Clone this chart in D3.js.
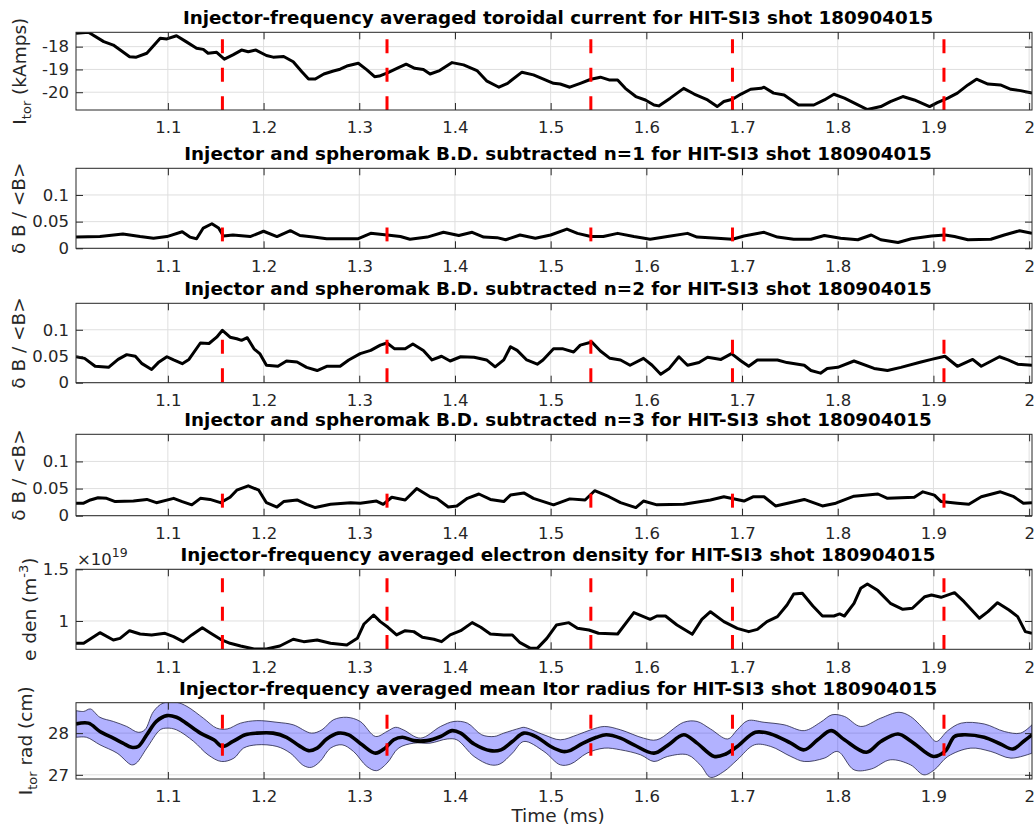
<!DOCTYPE html>
<html lang="en">
<head>
<meta charset="UTF-8">
<title>HIT-SI3 shot 180904015</title>
<script src="https://d3js.org/d3.v7.min.js"></script>
<style>
    body { margin: 0; background: #fff; }
    svg { display: block; }
    .tick text { fill: #262626; font-size: 16.5px; font-family: "DejaVu Sans", sans-serif; }
    .tick line { stroke: #262626; }
    .title { font-family: "DejaVu Sans", sans-serif; font-weight: bold; font-size: 18.3px; fill: #000; }
    .lab { font-family: "DejaVu Sans", sans-serif; font-size: 18.5px; fill: #262626; }
</style>
</head>
<body>
<div id="chart"></div>
<script>
// time axis
const timeTicks = [1.1, 1.2, 1.3, 1.4, 1.5, 1.6, 1.7, 1.8, 1.9, 2];
const markerTimes = [1.157, 1.329, 1.542, 1.690, 1.911];

// toroidal current (kA)
const tCur = [1.004,1.017,1.033,1.043,1.060,1.067,1.078,1.092,1.099,1.109,1.119,1.130,1.137,1.142,1.151,1.159,1.168,1.177,1.184,1.192,1.203,1.210,1.221,1.231,1.240,1.247,1.254,1.263,1.273,1.280,1.287,1.299,1.308,1.316,1.321,1.330,1.341,1.349,1.358,1.367,1.374,1.384,1.397,1.409,1.423,1.433,1.446,1.455,1.470,1.482,1.503,1.510,1.520,1.531,1.542,1.552,1.561,1.570,1.578,1.589,1.599,1.608,1.613,1.625,1.639,1.650,1.664,1.674,1.681,1.690,1.699,1.709,1.720,1.723,1.733,1.744,1.759,1.775,1.786,1.796,1.807,1.819,1.831,1.845,1.855,1.868,1.880,1.896,1.904,1.915,1.925,1.936,1.945,1.957,1.970,1.981,1.991,2.003];
const iTor = [-17.41,-17.37,-17.78,-17.93,-18.44,-18.46,-18.29,-17.63,-17.66,-17.52,-17.78,-18.07,-18.12,-18.29,-18.25,-18.55,-18.36,-18.15,-18.22,-18.15,-18.39,-18.46,-18.43,-18.66,-19.10,-19.42,-19.42,-19.20,-19.07,-18.99,-18.85,-18.73,-19.02,-19.32,-19.29,-19.14,-18.92,-18.77,-18.95,-19.00,-19.20,-19.05,-18.70,-18.80,-19.05,-19.50,-19.78,-19.61,-19.12,-19.24,-19.61,-19.64,-19.78,-19.61,-19.43,-19.34,-19.46,-19.46,-19.83,-20.19,-20.34,-20.56,-20.60,-20.26,-19.83,-20.08,-20.34,-20.63,-20.41,-20.31,-20.08,-19.87,-19.83,-19.78,-20.04,-20.12,-20.56,-20.56,-20.34,-20.09,-20.26,-20.51,-20.76,-20.63,-20.41,-20.19,-20.34,-20.63,-20.46,-20.26,-20.04,-19.68,-19.43,-19.64,-19.68,-19.87,-19.93,-20.04];

// n=1 mode amplitude
const tN1 = [1.004,1.029,1.053,1.071,1.085,1.099,1.115,1.123,1.130,1.137,1.146,1.153,1.158,1.168,1.186,1.200,1.214,1.228,1.238,1.252,1.266,1.287,1.299,1.312,1.329,1.343,1.353,1.371,1.388,1.404,1.418,1.430,1.444,1.453,1.468,1.484,1.500,1.517,1.528,1.542,1.555,1.570,1.587,1.604,1.622,1.643,1.653,1.674,1.690,1.702,1.723,1.737,1.754,1.772,1.786,1.803,1.821,1.835,1.845,1.863,1.877,1.898,1.912,1.922,1.936,1.960,1.974,1.990,2.003];
const bN1 = [0.021,0.022,0.027,0.022,0.019,0.022,0.031,0.021,0.018,0.038,0.046,0.038,0.023,0.025,0.022,0.032,0.022,0.033,0.024,0.021,0.018,0.018,0.018,0.028,0.025,0.022,0.017,0.021,0.030,0.024,0.030,0.021,0.020,0.016,0.025,0.019,0.025,0.036,0.028,0.022,0.022,0.028,0.022,0.017,0.022,0.028,0.021,0.019,0.017,0.023,0.030,0.021,0.017,0.017,0.024,0.019,0.016,0.025,0.016,0.011,0.018,0.023,0.025,0.022,0.016,0.017,0.025,0.033,0.028];

// n=2 mode amplitude
const tN2 = [1.004,1.013,1.024,1.038,1.048,1.057,1.066,1.073,1.083,1.090,1.099,1.106,1.115,1.122,1.134,1.143,1.151,1.157,1.165,1.172,1.177,1.183,1.190,1.196,1.203,1.215,1.224,1.235,1.245,1.256,1.266,1.280,1.289,1.301,1.312,1.322,1.329,1.337,1.348,1.356,1.367,1.376,1.386,1.395,1.406,1.420,1.433,1.442,1.451,1.458,1.465,1.475,1.486,1.492,1.503,1.513,1.524,1.531,1.543,1.552,1.562,1.573,1.583,1.597,1.606,1.615,1.624,1.634,1.643,1.655,1.664,1.678,1.689,1.699,1.707,1.716,1.737,1.747,1.765,1.772,1.782,1.789,1.800,1.817,1.838,1.852,1.866,1.887,1.898,1.912,1.925,1.941,1.950,1.969,1.978,1.988,2.003];
const bN2 = [0.049,0.046,0.031,0.029,0.044,0.053,0.050,0.036,0.025,0.038,0.049,0.043,0.036,0.044,0.075,0.074,0.086,0.099,0.086,0.083,0.080,0.085,0.064,0.055,0.033,0.031,0.041,0.039,0.029,0.023,0.031,0.031,0.043,0.055,0.061,0.071,0.075,0.064,0.064,0.073,0.061,0.043,0.050,0.041,0.049,0.048,0.043,0.030,0.043,0.068,0.061,0.043,0.035,0.043,0.064,0.064,0.058,0.071,0.077,0.060,0.046,0.043,0.033,0.046,0.033,0.016,0.027,0.049,0.033,0.038,0.048,0.044,0.055,0.041,0.031,0.043,0.043,0.038,0.033,0.023,0.018,0.027,0.029,0.041,0.027,0.023,0.029,0.039,0.044,0.050,0.031,0.044,0.031,0.049,0.043,0.035,0.033];

// n=3 mode amplitude
const tN3 = [1.004,1.012,1.019,1.027,1.036,1.045,1.064,1.078,1.088,1.106,1.115,1.125,1.134,1.144,1.155,1.165,1.172,1.184,1.195,1.203,1.214,1.221,1.235,1.245,1.254,1.270,1.291,1.301,1.318,1.325,1.334,1.348,1.360,1.374,1.381,1.393,1.402,1.413,1.425,1.437,1.451,1.458,1.472,1.482,1.503,1.520,1.536,1.546,1.561,1.573,1.589,1.597,1.611,1.639,1.667,1.681,1.702,1.712,1.723,1.735,1.765,1.784,1.798,1.817,1.842,1.852,1.880,1.889,1.901,1.908,1.925,1.937,1.950,1.970,1.984,1.994,2.003];
const bN3 = [0.023,0.023,0.029,0.033,0.032,0.026,0.027,0.030,0.024,0.032,0.026,0.020,0.032,0.030,0.024,0.034,0.047,0.055,0.047,0.024,0.016,0.026,0.029,0.021,0.015,0.021,0.024,0.023,0.027,0.021,0.034,0.029,0.050,0.035,0.032,0.016,0.018,0.032,0.040,0.030,0.026,0.038,0.042,0.032,0.020,0.031,0.029,0.046,0.035,0.024,0.015,0.027,0.020,0.021,0.029,0.035,0.027,0.035,0.035,0.018,0.030,0.018,0.023,0.036,0.040,0.032,0.034,0.044,0.038,0.026,0.023,0.021,0.035,0.044,0.035,0.023,0.024];

// electron density (x1e19 m^-3)
const tDen = [1.004,1.012,1.029,1.043,1.050,1.060,1.071,1.083,1.097,1.106,1.116,1.125,1.136,1.144,1.155,1.165,1.176,1.190,1.203,1.217,1.231,1.242,1.256,1.270,1.287,1.298,1.305,1.315,1.322,1.330,1.339,1.348,1.357,1.366,1.378,1.386,1.395,1.406,1.418,1.427,1.437,1.451,1.460,1.468,1.479,1.486,1.496,1.506,1.519,1.528,1.540,1.550,1.570,1.587,1.604,1.611,1.620,1.632,1.648,1.658,1.667,1.681,1.695,1.707,1.716,1.726,1.737,1.747,1.754,1.763,1.774,1.784,1.796,1.802,1.807,1.817,1.824,1.831,1.842,1.855,1.868,1.878,1.891,1.898,1.908,1.922,1.932,1.948,1.957,1.967,1.979,1.988,1.996,2.003];
const nDen = [0.784,0.784,0.887,0.816,0.832,0.906,0.874,0.865,0.881,0.848,0.800,0.865,0.935,0.887,0.823,0.784,0.758,0.729,0.729,0.758,0.823,0.800,0.816,0.784,0.768,0.832,0.971,1.058,0.994,0.939,0.865,0.906,0.897,0.842,0.823,0.800,0.865,0.906,0.984,0.939,0.874,0.865,0.865,0.790,0.735,0.735,0.832,0.961,0.984,0.929,0.913,0.881,0.874,1.081,1.016,1.048,1.048,0.961,0.871,1.016,1.090,0.994,0.929,0.897,0.919,0.994,1.042,1.155,1.261,1.268,1.145,1.048,1.048,1.068,1.048,1.171,1.316,1.358,1.294,1.171,1.113,1.123,1.235,1.252,1.229,1.274,1.187,1.026,1.090,1.177,1.106,1.042,0.897,0.881];

// mean Itor radius (cm) and its spread
const tRad = [1.004,1.017,1.029,1.043,1.053,1.062,1.069,1.078,1.088,1.099,1.109,1.119,1.134,1.148,1.157,1.168,1.181,1.193,1.210,1.224,1.237,1.247,1.256,1.266,1.278,1.289,1.303,1.317,1.327,1.336,1.345,1.357,1.371,1.385,1.397,1.406,1.420,1.437,1.448,1.460,1.472,1.486,1.500,1.513,1.520,1.534,1.548,1.558,1.573,1.587,1.608,1.622,1.639,1.653,1.671,1.683,1.695,1.714,1.730,1.751,1.765,1.779,1.793,1.807,1.830,1.845,1.863,1.877,1.900,1.912,1.922,1.932,1.953,1.970,1.983,1.994,2.003];
const rMean = [28.22,28.24,28.04,27.88,27.76,27.66,27.68,27.96,28.28,28.42,28.38,28.24,28.00,27.84,27.68,27.80,27.96,28.00,28.00,27.90,27.70,27.58,27.64,27.86,28.00,27.96,27.72,27.52,27.64,27.84,27.90,27.82,27.82,27.92,28.06,28.00,27.74,27.58,27.60,27.80,28.00,27.90,27.68,27.56,27.58,27.76,27.90,27.96,27.88,27.72,27.52,27.70,27.96,27.76,27.44,27.50,27.68,28.02,27.98,27.76,27.60,27.84,28.06,27.84,27.54,27.80,27.98,27.80,27.44,27.56,27.92,27.96,27.90,27.74,27.62,27.80,27.96];
const tRadUp = [1.004,1.012,1.019,1.029,1.043,1.057,1.069,1.076,1.085,1.095,1.109,1.120,1.137,1.151,1.162,1.176,1.193,1.214,1.231,1.250,1.261,1.273,1.287,1.301,1.317,1.329,1.338,1.346,1.364,1.385,1.399,1.413,1.428,1.441,1.451,1.468,1.472,1.493,1.510,1.528,1.542,1.556,1.573,1.597,1.611,1.639,1.653,1.667,1.685,1.695,1.706,1.723,1.744,1.765,1.782,1.794,1.807,1.824,1.845,1.864,1.876,1.894,1.903,1.915,1.929,1.953,1.974,1.991,2.003];
const rUp = [28.54,28.52,28.58,28.38,28.28,28.16,28.02,28.08,28.52,28.72,28.74,28.64,28.36,28.12,28.10,28.24,28.30,28.26,28.20,28.00,28.08,28.32,28.38,28.28,27.92,28.04,28.14,28.08,27.88,28.16,28.28,28.24,27.96,27.92,28.00,28.12,28.14,27.96,27.84,27.96,28.08,28.16,28.08,27.88,27.84,28.26,28.28,28.10,27.86,28.08,28.30,28.26,28.20,28.06,28.26,28.44,28.40,28.16,28.36,28.50,28.40,28.00,27.80,28.06,28.24,28.22,28.04,28.00,28.20];
const tRadLo = [1.004,1.015,1.029,1.047,1.062,1.067,1.078,1.092,1.099,1.109,1.127,1.142,1.156,1.169,1.179,1.193,1.214,1.228,1.242,1.250,1.259,1.270,1.282,1.294,1.308,1.318,1.329,1.341,1.357,1.374,1.392,1.402,1.420,1.437,1.447,1.460,1.472,1.493,1.510,1.521,1.538,1.556,1.573,1.594,1.608,1.622,1.643,1.657,1.667,1.681,1.695,1.713,1.730,1.751,1.765,1.786,1.800,1.817,1.835,1.855,1.876,1.890,1.901,1.915,1.939,1.960,1.981,2.003];
const rLo = [27.90,27.90,27.72,27.52,27.24,27.28,27.64,28.08,28.12,28.08,27.80,27.48,27.32,27.40,27.64,27.72,27.68,27.52,27.22,27.18,27.32,27.64,27.72,27.56,27.20,27.10,27.28,27.64,27.76,27.76,27.86,27.84,27.44,27.24,27.26,27.52,27.80,27.56,27.24,27.26,27.52,27.64,27.60,27.48,27.32,27.44,27.48,27.22,26.94,27.08,27.36,27.72,27.68,27.44,27.32,27.40,27.56,27.12,27.14,27.36,27.24,27.00,27.12,27.44,27.64,27.56,27.40,27.52];

// y extents of the red markers in each panel
const curMarker = [-17.68, -20.78];
const n1Marker = [0.039, 0.013];
const n2Marker = [0.081, 0];
const n3Marker = [0.0406, 0.0144];
const denMarker = [1.413, 0.726];
const radMarker = [28.44, 27.46];

const titles = [
    "Injector-frequency averaged toroidal current for HIT-SI3 shot 180904015",
    "Injector and spheromak B.D. subtracted n=1 for HIT-SI3 shot 180904015",
    "Injector and spheromak B.D. subtracted n=2 for HIT-SI3 shot 180904015",
    "Injector and spheromak B.D. subtracted n=3 for HIT-SI3 shot 180904015",
    "Injector-frequency averaged electron density for HIT-SI3 shot 180904015",
    "Injector-frequency averaged mean Itor radius for HIT-SI3 shot 180904015"
];

const dbLabel = [["δ B / <B>", 0]];
const panels = [
    {t: tCur, v: iTor, dom: [-20.78, -17.37], ticks: [-20, -19, -18], mark: curMarker, top: 32.3, bottom: 110,
     label: [["I", 0], ["tor", 1], [" (kAmps)", 0]], labelX: 26},
    {t: tN1, v: bN1, dom: [0, 0.15], ticks: [0, 0.05, 0.1], mark: n1Marker, top: 168.3, bottom: 248.3, label: dbLabel, labelX: 25},
    {t: tN2, v: bN2, dom: [0, 0.15], ticks: [0, 0.05, 0.1], mark: n2Marker, top: 303.3, bottom: 382.7, label: dbLabel, labelX: 25},
    {t: tN3, v: bN3, dom: [0, 0.15], ticks: [0, 0.05, 0.1], mark: n3Marker, top: 434.3, bottom: 515.7, label: dbLabel, labelX: 25},
    {t: tDen, v: nDen, dom: [0.726, 1.5], ticks: [1, 1.5], mark: denMarker, top: 569.3, bottom: 649.3,
     label: [["e den (m", 0], ["-3", -1], [")", 0]], labelX: 36, exponent: true},
    {t: tRad, v: rMean, dom: [26.9, 28.73], ticks: [27, 28], mark: radMarker, top: 702.7, bottom: 779,
     label: [["I", 0], ["tor", 1], [" rad (cm)", 0]], labelX: 32, band: true}
];

const W = 1034, H = 829;
const left = 76, right = 1032;

const svg = d3.select("#chart").append("svg")
    .attr("width", W)
    .attr("height", H);

const x = d3.scaleLinear().domain([1.004, 2.003]).range([left, right]);

panels.forEach((p, i) => {
    const y = d3.scaleLinear().domain(p.dom).range([p.bottom, p.top]);
    const g = svg.append("g");
    const pts = p.t.map((t, k) => [t, p.v[k]]);

    g.append("clipPath").attr("id", "clip" + i)
        .append("rect")
        .attr("x", left).attr("y", p.top)
        .attr("width", right - left).attr("height", p.bottom - p.top);

    // grid
    g.append("g").selectAll("line").data(timeTicks).enter().append("line")
        .attr("x1", d => x(d)).attr("x2", d => x(d))
        .attr("y1", p.top).attr("y2", p.bottom)
        .attr("stroke", "#dfdfdf");
    g.append("g").selectAll("line").data(p.ticks).enter().append("line")
        .attr("x1", left).attr("x2", right)
        .attr("y1", d => y(d)).attr("y2", d => y(d))
        .attr("stroke", "#dfdfdf");

    const line = d3.line().x(d => x(d[0])).y(d => y(d[1]));

    const drawMarkers = () => {
        g.append("g").selectAll("line").data(markerTimes).enter().append("line")
            .attr("x1", d => x(d)).attr("x2", d => x(d))
            .attr("y1", y(p.mark[0])).attr("y2", y(p.mark[1]))
            .attr("stroke", "#ff0000")
            .attr("stroke-width", 3)
            .attr("stroke-dasharray", "14 14.4");
    };

    const plot = g.append("g").attr("clip-path", `url(#clip${i})`);

    if (p.band) {
        drawMarkers();
        const smooth = d3.line().x(d => x(d[0])).y(d => y(d[1])).curve(d3.curveCatmullRom.alpha(0.5));
        const up = tRadUp.map((t, k) => [t, rUp[k]]);
        const lo = tRadLo.map((t, k) => [t, rLo[k]]).reverse();
        plot.append("path")
            .attr("d", smooth(up) + smooth(lo).replace(/^M/, "L") + "Z")
            .attr("fill", "#0000ff")
            .attr("fill-opacity", 0.3)
            .attr("stroke", "#222244")
            .attr("stroke-width", 0.8);
        plot.append("path")
            .attr("d", smooth(pts))
            .attr("fill", "none")
            .attr("stroke", "#000")
            .attr("stroke-width", 3.6);
    } else {
        plot.append("path")
            .attr("d", line(pts))
            .attr("fill", "none")
            .attr("stroke", "#000")
            .attr("stroke-width", 3)
            .attr("stroke-linejoin", "round");
        drawMarkers();
    }

    // box
    g.append("rect")
        .attr("x", left).attr("y", p.top)
        .attr("width", right - left).attr("height", p.bottom - p.top)
        .attr("fill", "none")
        .attr("stroke", "#262626")
        .attr("stroke-width", 1);

    // axes, ticks inward
    g.append("g").attr("transform", `translate(0,${p.bottom})`)
        .call(d3.axisBottom(x).tickValues(timeTicks).tickSize(-7).tickPadding(11.5).tickFormat(d => String(d)))
        .call(a => a.select(".domain").remove());
    g.append("g").attr("transform", `translate(0,${p.top})`)
        .call(d3.axisTop(x).tickValues(timeTicks).tickSize(-7).tickFormat(""))
        .call(a => a.select(".domain").remove());
    g.append("g").attr("transform", `translate(${left},0)`)
        .call(d3.axisLeft(y).tickValues(p.ticks).tickSize(-7).tickPadding(7).tickFormat(d => String(d)))
        .call(a => a.select(".domain").remove());
    g.append("g").attr("transform", `translate(${right},0)`)
        .call(d3.axisRight(y).tickValues(p.ticks).tickSize(-7).tickFormat(""))
        .call(a => a.select(".domain").remove());

    // title
    g.append("text").attr("class", "title")
        .attr("x", (left + right) / 2 + 4).attr("y", p.top - 8)
        .attr("text-anchor", "middle")
        .text(titles[i]);

    // y label
    const lab = g.append("text").attr("class", "lab")
        .attr("text-anchor", "middle")
        .attr("transform", `translate(${p.labelX},${(p.top + p.bottom) / 2}) rotate(-90)`);
    let shift = 0;
    p.label.forEach(([txt, s]) => {
        const target = s === 1 ? 5 : s === -1 ? -8 : 0;
        lab.append("tspan")
            .attr("dy", target - shift)
            .attr("font-size", s === 0 ? null : 13)
            .text(txt);
        shift = target;
    });

    if (p.exponent) {
        const ex = g.append("text").attr("class", "lab")
            .attr("x", left + 1).attr("y", p.top - 4)
            .style("font-size", "16.5px");
        ex.append("tspan").text("×10");
        ex.append("tspan").attr("dy", -8).attr("font-size", 12.5).text("19");
    }
});

svg.append("text").attr("class", "lab")
    .attr("x", 558).attr("y", 822)
    .attr("text-anchor", "middle")
    .text("Time (ms)");
</script>
</body>
</html>
